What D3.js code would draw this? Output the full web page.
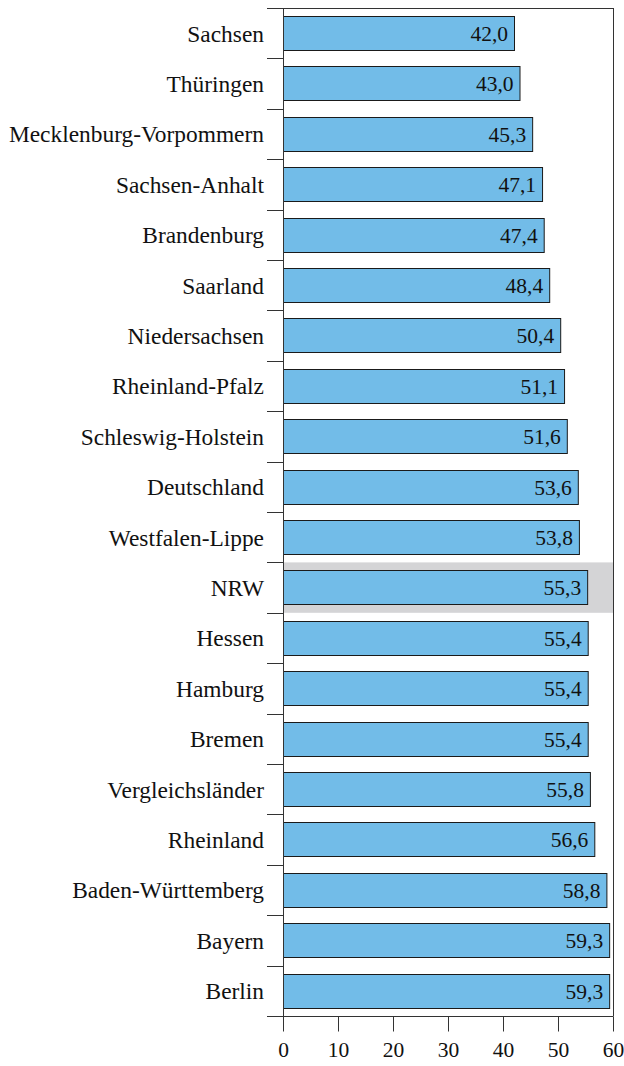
<!DOCTYPE html>
<html><head><meta charset="utf-8">
<script src="https://cdn.jsdelivr.net/npm/d3@7"></script>
<style>
html,body{margin:0;padding:0;background:#fff;}
svg{display:block;}
text{font-family:"Liberation Serif","Times New Roman",serif;fill:#111;}
</style></head>
<body>
<svg id="chart" width="624" height="1066"></svg>
<script>
const categories = ["Sachsen","Thüringen","Mecklenburg-Vorpommern","Sachsen-Anhalt","Brandenburg","Saarland","Niedersachsen","Rheinland-Pfalz","Schleswig-Holstein","Deutschland","Westfalen-Lippe","NRW","Hessen","Hamburg","Bremen","Vergleichsländer","Rheinland","Baden-Württemberg","Bayern","Berlin"];
const values = [42.0,43.0,45.3,47.1,47.4,48.4,50.4,51.1,51.6,53.6,53.8,55.3,55.4,55.4,55.4,55.8,56.6,58.8,59.3,59.3];
const highlighted = ["NRW"];
const xTicks = [0,10,20,30,40,50,60];

const svg = d3.select("#chart");
const m = {left:283, right:11, top:8, bottom:50};
const W = 624, H = 1066;
const x = d3.scaleLinear().domain([0,60]).range([m.left, W - m.right]);
const y = d3.scaleBand().domain(categories).range([m.top, H - m.bottom]).paddingInner(0.32).paddingOuter(0.16);
const step = y.step();
const bandTop = i => m.top + i*step;

// highlight band
svg.selectAll("rect.hl").data(highlighted).join("rect").attr("class","hl")
  .attr("x", x(0)).attr("width", x(60) - x(0))
  .attr("y", d => bandTop(categories.indexOf(d)))
  .attr("height", step)
  .attr("fill", "#d4d4d6");

// frame: top and right
svg.append("line").attr("x1", x(0)).attr("x2", x(60)).attr("y1", m.top+0.5).attr("y2", m.top+0.5).attr("stroke","#333");
svg.append("line").attr("x1", x(60)+0.5).attr("x2", x(60)+0.5).attr("y1", m.top).attr("y2", H-m.bottom).attr("stroke","#333");

// bars
svg.selectAll("rect.bar").data(categories).join("rect").attr("class","bar")
  .attr("x", x(0)+0.5)
  .attr("y", d => Math.round(y(d))+0.5)
  .attr("width", (d,i) => x(values[i]) - x(0))
  .attr("height", Math.round(y.bandwidth()))
  .attr("fill", "#72bce8")
  .attr("stroke", "#1a1a1a").attr("stroke-width", 1);

// value labels
const fmt = v => v.toFixed(1).replace(".", ",");
svg.selectAll("text.val").data(categories).join("text").attr("class","val")
  .attr("x", (d,i) => x(values[i]) - 6)
  .attr("y", d => y(d) + y.bandwidth()/2)
  .attr("dy", "0.36em")
  .attr("text-anchor","end")
  .attr("font-size", 21.5)
  .text((d,i) => fmt(values[i]));

// y axis (category boundaries ticks)
const yAxisG = svg.append("g");
yAxisG.append("line").attr("x1", x(0)+0.5).attr("x2", x(0)+0.5).attr("y1", m.top).attr("y2", H-m.bottom).attr("stroke","#333");
yAxisG.selectAll("line.bt").data(d3.range(categories.length+1)).join("line").attr("class","bt")
  .attr("x1", x(0)-16).attr("x2", x(0))
  .attr("y1", i => Math.round(bandTop(i))+0.5).attr("y2", i => Math.round(bandTop(i))+0.5)
  .attr("stroke","#333");
yAxisG.selectAll("text.cat").data(categories).join("text").attr("class","cat")
  .attr("x", x(0) - 19)
  .attr("y", d => y(d) + y.bandwidth()/2)
  .attr("dy","0.36em")
  .attr("text-anchor","end")
  .attr("font-size", 23.4)
  .text(d => d);

// x axis
const xAxis = d3.axisBottom(x).tickValues(xTicks).tickSize(15).tickPadding(10).tickFormat(d3.format("d"));
const gx = svg.append("g").attr("transform", `translate(0,${Math.round(H-m.bottom)+0.5})`).call(xAxis);
gx.select(".domain").attr("stroke","#333").attr("d", `M${x(0)},0H${x(60)+0.5}`);
gx.selectAll(".tick line").attr("stroke","#333");
gx.selectAll(".tick text").attr("font-size", 21.5).attr("font-family",'"Liberation Serif",serif').attr("fill","#111");
</script>
</body></html>
